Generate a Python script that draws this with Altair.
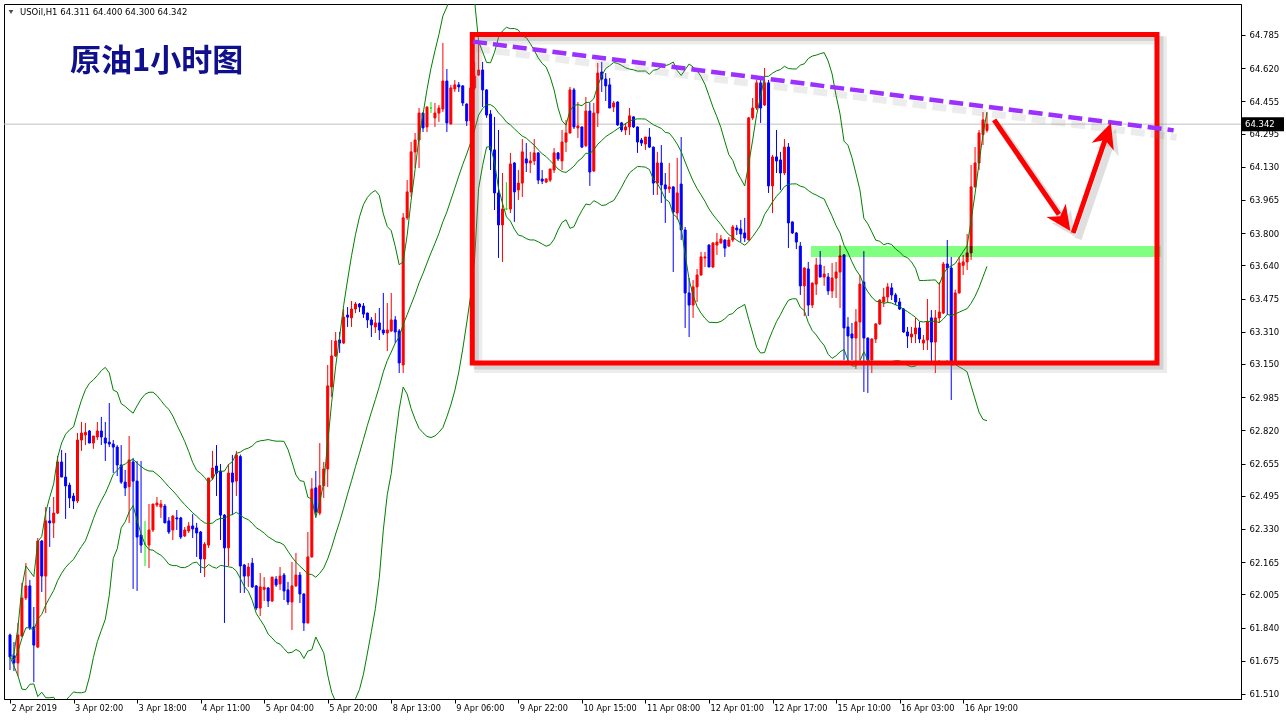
import altair as alt
import pandas as pd

# ---- hourly OHLC, USOil H1, 2 Apr - 16 Apr 2019 ----
opens = [
    61.803, 61.699, 61.664, 61.798, 61.987, 62.047, 61.843, 61.743, 62.270, 62.096,
    62.370, 62.360, 62.409, 62.663, 62.588, 62.548, 62.494, 62.469, 62.772, 62.797,
    62.817, 62.757, 62.787, 62.817, 62.782, 62.762, 62.752, 62.737, 62.648, 62.563,
    62.540, 62.663, 62.568, 62.300, 62.255, 62.250, 62.325, 62.449, 62.439, 62.444,
    62.370, 62.325, 62.385, 62.385, 62.295, 62.320, 62.345, 62.335, 62.315, 62.181,
    62.250, 62.583, 62.643, 62.618, 62.399, 62.236, 62.608, 62.568, 62.690, 62.151,
    62.096, 62.160, 62.047, 61.937, 62.030, 62.037, 61.972, 62.081, 62.057, 62.101,
    62.027, 61.967, 62.047, 62.101, 62.007, 61.863, 62.191, 62.534, 62.409, 62.545,
    62.628, 63.036, 63.190, 63.269, 63.254, 63.393, 63.379, 63.423, 63.448, 63.438,
    63.403, 63.369, 63.334, 63.354, 63.319, 63.304, 63.314, 63.369, 63.314, 63.145,
    63.876, 64.005, 64.204, 64.263, 64.397, 64.328, 64.422, 64.373, 64.397, 64.417,
    64.556, 64.343, 64.517, 64.537, 64.532, 64.442, 64.358, 64.522, 64.586, 64.611,
    64.512, 64.392, 64.214, 64.000, 63.841, 63.920, 63.920, 64.149, 64.015, 64.049,
    64.169, 64.149, 64.159, 64.199, 64.069, 64.054, 64.064, 64.114, 64.199, 64.159,
    64.253, 64.298, 64.512, 64.323, 64.328, 64.235, 64.407, 64.109, 64.397, 64.601,
    64.566, 64.537, 64.427, 64.452, 64.348, 64.313, 64.328, 64.378, 64.328, 64.263,
    64.243, 64.278, 64.228, 64.049, 64.149, 64.040, 64.020, 64.030, 63.900, 64.044,
    63.816, 63.503, 63.443, 63.533, 63.592, 63.677, 63.741, 63.632, 63.741, 63.751,
    63.766, 63.736, 63.766, 63.826, 63.821, 63.801, 63.766, 64.373, 64.422, 64.547,
    64.437, 64.547, 64.035, 64.179, 64.164, 64.099, 64.228, 63.856, 63.801, 63.736,
    63.538, 63.622, 63.443, 63.547, 63.642, 63.582, 63.582, 63.513, 63.577, 63.607,
    63.692, 63.334, 63.299, 63.279, 63.359, 63.557, 63.279, 63.170, 63.274, 63.349,
    63.458, 63.483, 63.528, 63.493, 63.458, 63.423, 63.309, 63.284, 63.299, 63.329,
    63.254, 63.269, 63.379, 63.259, 63.379, 63.403, 63.647, 63.627, 63.160, 63.503,
    63.640, 63.657, 63.702, 64.030, 64.149, 64.290, 64.311,
]
highs = [
    61.810, 61.768, 61.863, 62.062, 62.161, 62.077, 61.942, 62.285, 62.275, 62.439,
    62.439, 62.489, 62.693, 62.723, 62.708, 62.560, 62.509, 62.807, 62.862, 62.857,
    62.822, 62.792, 62.862, 62.887, 62.862, 62.956, 62.772, 62.747, 62.747, 62.623,
    62.792, 62.683, 62.668, 62.668, 62.370, 62.454, 62.454, 62.489, 62.474, 62.454,
    62.389, 62.399, 62.424, 62.390, 62.340, 62.365, 62.404, 62.360, 62.320, 62.265,
    62.583, 62.718, 62.747, 62.653, 62.404, 62.653, 62.698, 62.718, 62.700, 62.156,
    62.161, 62.186, 62.050, 62.111, 62.091, 62.040, 62.091, 62.096, 62.141, 62.111,
    62.067, 62.166, 62.211, 62.116, 62.010, 62.315, 62.583, 62.618, 62.757, 62.663,
    63.145, 63.269, 63.309, 63.309, 63.423, 63.433, 63.463, 63.458, 63.453, 63.453,
    63.405, 63.383, 63.403, 63.428, 63.503, 63.453, 63.503, 63.388, 63.324, 63.900,
    64.064, 64.253, 64.298, 64.422, 64.400, 64.430, 64.452, 64.447, 64.437, 64.745,
    64.616, 64.537, 64.561, 64.551, 64.535, 64.445, 64.611, 64.651, 64.745, 64.651,
    64.515, 64.412, 64.378, 64.313, 64.099, 64.054, 64.199, 64.152, 64.114, 64.268,
    64.248, 64.204, 64.268, 64.202, 64.114, 64.074, 64.119, 64.223, 64.202, 64.313,
    64.363, 64.527, 64.522, 64.452, 64.330, 64.477, 64.447, 64.447, 64.646, 64.651,
    64.596, 64.571, 64.457, 64.455, 64.353, 64.348, 64.422, 64.380, 64.330, 64.273,
    64.278, 64.323, 64.230, 64.204, 64.238, 64.099, 64.149, 64.032, 64.174, 64.278,
    63.831, 63.577, 63.567, 63.622, 63.707, 63.707, 63.745, 63.756, 63.801, 63.791,
    63.770, 63.781, 63.841, 63.841, 63.866, 63.876, 64.378, 64.472, 64.561, 64.576,
    64.621, 64.561, 64.189, 64.313, 64.204, 64.268, 64.248, 63.858, 63.806, 63.756,
    63.630, 63.657, 63.555, 63.677, 63.711, 63.637, 63.602, 63.652, 63.657, 63.741,
    63.695, 63.383, 63.354, 63.423, 63.592, 63.711, 63.281, 63.278, 63.352, 63.471,
    63.528, 63.552, 63.552, 63.503, 63.478, 63.428, 63.334, 63.334, 63.379, 63.359,
    63.294, 63.473, 63.418, 63.418, 63.557, 63.657, 63.766, 63.682, 63.520, 63.682,
    63.692, 63.796, 64.139, 64.228, 64.313, 64.402, 64.400,
]
lows = [
    61.629, 61.624, 61.599, 61.793, 61.977, 61.828, 61.569, 61.738, 62.017, 61.912,
    62.241, 62.285, 62.404, 62.588, 62.380, 62.434, 62.429, 62.459, 62.718, 62.747,
    62.757, 62.728, 62.772, 62.747, 62.668, 62.737, 62.608, 62.593, 62.554, 62.494,
    62.360, 62.032, 62.022, 62.211, 62.146, 62.136, 62.315, 62.439, 62.385, 62.360,
    62.305, 62.275, 62.325, 62.280, 62.290, 62.310, 62.285, 62.191, 62.111, 62.091,
    62.236, 62.573, 62.494, 62.275, 61.863, 62.146, 62.399, 62.494, 62.012, 62.012,
    62.042, 62.037, 61.927, 61.897, 61.972, 61.942, 61.967, 62.042, 62.027, 61.977,
    61.952, 61.828, 62.042, 61.962, 61.823, 61.860, 62.188, 62.399, 62.399, 62.484,
    62.539, 62.986, 63.185, 63.205, 63.250, 63.334, 63.334, 63.403, 63.408, 63.379,
    63.329, 63.284, 63.304, 63.269, 63.294, 63.214, 63.309, 63.254, 63.105, 63.105,
    63.866, 63.980, 64.124, 64.124, 64.303, 64.303, 64.397, 64.328, 64.353, 64.402,
    64.303, 64.340, 64.502, 64.502, 64.432, 64.333, 64.338, 64.512, 64.581, 64.427,
    64.373, 64.114, 63.915, 63.677, 63.657, 63.915, 63.900, 63.856, 63.965, 63.980,
    64.104, 64.099, 64.139, 64.044, 64.044, 64.049, 64.054, 64.099, 64.159, 64.114,
    64.204, 64.295, 64.318, 64.273, 64.223, 64.228, 64.035, 64.104, 64.328, 64.502,
    64.457, 64.422, 64.402, 64.333, 64.303, 64.288, 64.288, 64.323, 64.199, 64.233,
    64.214, 64.223, 63.990, 63.990, 63.950, 63.851, 64.000, 63.607, 63.866, 63.766,
    63.329, 63.284, 63.379, 63.458, 63.590, 63.632, 63.632, 63.627, 63.692, 63.750,
    63.682, 63.731, 63.756, 63.791, 63.756, 63.756, 63.764, 64.363, 64.412, 64.348,
    64.432, 64.000, 63.900, 64.099, 64.015, 64.089, 63.726, 63.796, 63.721, 63.493,
    63.388, 63.388, 63.428, 63.493, 63.582, 63.538, 63.493, 63.478, 63.478, 63.428,
    63.170, 63.160, 63.170, 63.125, 63.170, 63.011, 63.006, 63.105, 63.254, 63.344,
    63.433, 63.453, 63.468, 63.443, 63.418, 63.305, 63.229, 63.254, 63.254, 63.254,
    63.219, 63.219, 63.160, 63.105, 63.354, 63.398, 63.393, 62.971, 63.145, 63.500,
    63.592, 63.617, 63.667, 64.028, 64.114, 64.238, 64.300,
]
closes = [
    61.694, 61.664, 61.803, 61.987, 62.047, 61.838, 61.753, 62.270, 62.096, 62.370,
    62.360, 62.409, 62.663, 62.588, 62.544, 62.484, 62.469, 62.772, 62.807, 62.810,
    62.757, 62.792, 62.817, 62.787, 62.757, 62.752, 62.737, 62.648, 62.563, 62.534,
    62.673, 62.568, 62.290, 62.250, 62.255, 62.325, 62.454, 62.459, 62.454, 62.360,
    62.315, 62.394, 62.380, 62.290, 62.325, 62.345, 62.330, 62.310, 62.181, 62.255,
    62.583, 62.633, 62.608, 62.399, 62.236, 62.608, 62.563, 62.698, 62.146, 62.096,
    62.141, 62.042, 61.937, 62.042, 62.040, 61.972, 62.091, 62.052, 62.096, 62.022,
    61.967, 62.047, 62.101, 62.007, 61.863, 62.191, 62.529, 62.414, 62.545, 62.628,
    63.041, 63.190, 63.264, 63.254, 63.383, 63.383, 63.423, 63.448, 63.433, 63.398,
    63.369, 63.344, 63.354, 63.319, 63.304, 63.319, 63.369, 63.309, 63.155, 63.876,
    64.005, 64.204, 64.263, 64.397, 64.323, 64.427, 64.422, 64.397, 64.422, 64.556,
    64.348, 64.522, 64.537, 64.527, 64.447, 64.358, 64.522, 64.581, 64.611, 64.512,
    64.387, 64.214, 64.000, 63.841, 63.920, 63.920, 64.144, 64.005, 64.049, 64.204,
    64.149, 64.159, 64.199, 64.064, 64.059, 64.069, 64.119, 64.199, 64.169, 64.253,
    64.298, 64.512, 64.328, 64.333, 64.228, 64.407, 64.104, 64.397, 64.596, 64.566,
    64.532, 64.422, 64.447, 64.338, 64.313, 64.328, 64.383, 64.328, 64.253, 64.248,
    64.278, 64.228, 64.049, 64.149, 64.040, 64.020, 64.030, 63.905, 64.000, 63.816,
    63.503, 63.443, 63.533, 63.592, 63.682, 63.682, 63.632, 63.751, 63.756, 63.771,
    63.726, 63.766, 63.831, 63.816, 63.796, 63.776, 64.373, 64.422, 64.547, 64.422,
    64.547, 64.035, 64.179, 64.159, 64.099, 64.228, 63.851, 63.801, 63.756, 63.538,
    63.627, 63.443, 63.552, 63.642, 63.582, 63.597, 63.513, 63.577, 63.607, 63.687,
    63.329, 63.289, 63.279, 63.359, 63.547, 63.279, 63.170, 63.274, 63.349, 63.468,
    63.483, 63.533, 63.493, 63.458, 63.423, 63.309, 63.289, 63.299, 63.329, 63.274,
    63.269, 63.359, 63.259, 63.379, 63.408, 63.647, 63.627, 63.160, 63.503, 63.652,
    63.657, 63.702, 64.030, 64.149, 64.298, 64.363, 64.342,
]

# time axis: one label every 16 bars
time_labels = [
    "2 Apr 2019", "3 Apr 02:00", "3 Apr 18:00", "4 Apr 11:00", "5 Apr 04:00",
    "5 Apr 20:00", "8 Apr 13:00", "9 Apr 06:00", "9 Apr 22:00", "10 Apr 15:00",
    "11 Apr 08:00", "12 Apr 01:00", "12 Apr 17:00", "15 Apr 10:00", "16 Apr 03:00",
    "16 Apr 19:00",
]
label_step = 16

price_ticks = [
    64.785, 64.620, 64.455, 64.295, 64.130, 63.965, 63.800, 63.640, 63.475, 63.310,
    63.150, 62.985, 62.820, 62.655, 62.495, 62.330, 62.165, 62.005, 61.840, 61.675,
    61.510,
]

header_text = "USOil,H1  64.311 64.400 64.300 64.342"
title_text = "原油1小时图"

# drawn annotations (bar index / price)
box_bars = [116.4, 288.8]
box_prices = [64.788, 63.155]
zone_bars = [201.7, 289.7]
zone_prices = [63.682, 63.736]
trend_bars = [116.6, 293.0]
trend_prices = [64.752, 64.311]
arrow_start_bars = [247.8, 267.7]
arrow_start_prices = [64.363, 63.801]
arrow_tip_bars = [267.0, 277.2]
arrow_tip_prices = [63.811, 64.348]

# ---- styling ----
UP, DOWN, DOJI = "#ff0000", "#0000ff", "#00ee00"
BAND = "#008000"
FONT = "DejaVu Sans"
W, H = 1237, 695
arrow_head_angles = [145.2, 19.1]
HEAD = "M0,0 L0.75,1.6 L0,1.15 L-0.75,1.6 Z"

df = pd.DataFrame({
    "bar": list(range(len(closes))),
    "open": opens, "high": highs, "low": lows, "close": closes,
})
df["dir"] = [
    "up" if c > o else ("down" if c < o else "doji") for o, c in zip(opens, closes)
]

xs = alt.Scale(domain=[-0.25, 308.7], nice=False, zero=False)
ys = alt.Scale(domain=[61.485, 64.939], nice=False, zero=False)
cs = alt.Scale(domain=["up", "down", "doji"], range=[UP, DOWN, DOJI])

label_expr = (
    "[" + ",".join("'%s'" % t for t in time_labels) + "][round(datum.value/%d)]" % label_step
)
x_axis = alt.Axis(
    values=list(range(0, label_step * len(time_labels), label_step)),
    labelExpr=label_expr, labelAlign="left", labelBaseline="top", labelOffset=1,
    labelPadding=1, tickSize=4, tickColor="black", domainColor="black",
    labelColor="black", labelFont=FONT, labelFontSize=8.2, grid=False, title=None,
    labelOverlap=False, labelFlush=False, labelBound=False,
)
y_axis = alt.Axis(
    orient="right", values=price_ticks, format=".3f", tickSize=4, labelPadding=4,
    tickColor="black", domainColor="black", labelColor="black", labelFont=FONT,
    labelFontSize=8.5, grid=False, title=None, labelOverlap=False, labelFlush=False,
)


def X(field):
    return alt.X(field, type="quantitative", scale=xs, axis=x_axis)


def Y(field):
    return alt.Y(field, type="quantitative", scale=ys, axis=y_axis)


base = alt.Chart(df)

# last-price line
last = pd.DataFrame({"price": [closes[-1]]})
price_line = alt.Chart(last).mark_rule(color="#c0c0c0", strokeWidth=1).encode(y=Y("price"))

wicks = base.mark_rule(strokeWidth=1).encode(
    x=X("bar"), y=Y("low"), y2="high:Q",
    color=alt.Color("dir:N", scale=cs, legend=None),
)
bodies = base.mark_bar(size=2, strokeWidth=1).encode(
    x=X("bar"), y=Y("open"), y2="close:Q",
    fill=alt.Fill("dir:N", scale=cs, legend=None),
    stroke=alt.Stroke("dir:N", scale=cs, legend=None),
)

# Bollinger bands (20, 2)
bands = (
    base.transform_window(
        mid="mean(close)", sd="stdevp(close)", frame=[-19, 0], sort=[alt.SortField("bar")]
    )
    .transform_calculate(upper="datum.mid + 2*datum.sd", lower="datum.mid - 2*datum.sd")
    .transform_fold(["upper", "mid", "lower"], as_=["band", "value"])
    .mark_line(color=BAND, strokeWidth=1, clip=True)
    .encode(x=X("bar"), y=Y("value"), detail="band:N")
)

zone_df = pd.DataFrame({"b0": [zone_bars[0]], "b1": [zone_bars[1]],
                        "p0": [zone_prices[0]], "p1": [zone_prices[1]]})
zone = alt.Chart(zone_df).mark_rect(fill="#80ff80", blend="multiply").encode(
    x=X("b0"), x2="b1:Q", y=Y("p0"), y2="p1:Q",
)

box_df = pd.DataFrame({"b0": [box_bars[0]], "b1": [box_bars[1]],
                       "p0": [box_prices[0]], "p1": [box_prices[1]]})
box_shadow_outer = alt.Chart(box_df).mark_rect(
    filled=False, color="#808080", strokeWidth=8, opacity=0.15,
    xOffset=6, x2Offset=6, yOffset=6, y2Offset=6,
).encode(x=X("b0"), x2="b1:Q", y=Y("p0"), y2="p1:Q")
box_shadow = alt.Chart(box_df).mark_rect(
    filled=False, color="#808080", strokeWidth=5, opacity=0.25,
    xOffset=4, x2Offset=4, yOffset=4, y2Offset=4,
).encode(x=X("b0"), x2="b1:Q", y=Y("p0"), y2="p1:Q")
box = alt.Chart(box_df).mark_rect(filled=False, color="#ff0000", strokeWidth=5).encode(
    x=X("b0"), x2="b1:Q", y=Y("p0"), y2="p1:Q"
)

trend_df = pd.DataFrame({"bar": trend_bars, "price": trend_prices})
trend_shadow = alt.Chart(trend_df).mark_line(
    color="#808080", strokeWidth=7, opacity=0.15, strokeDash=[14, 6], xOffset=3, yOffset=7
).encode(x=X("bar"), y=Y("price"))
trend = alt.Chart(trend_df).mark_line(
    color="#9b30ff", strokeWidth=4.5, strokeDash=[14, 6]
).encode(x=X("bar"), y=Y("price"))

# arrows
arrow_layers = []
for k in range(len(arrow_start_bars)):
    sb, sp = arrow_start_bars[k], arrow_start_prices[k]
    tb, tp = arrow_tip_bars[k], arrow_tip_prices[k]
    shaft_df = pd.DataFrame({
        "bar": [sb, sb + 0.85 * (tb - sb)],
        "price": [sp, sp + 0.85 * (tp - sp)],
    })
    tip_df = pd.DataFrame({"bar": [tb], "price": [tp]})
    for color, op, dx, dy, sw in [("#808080", 0.25, 5, 6, 7), ("#ff0000", 1.0, 0, 0, 5)]:
        arrow_layers.append(
            alt.Chart(shaft_df).mark_line(
                color=color, opacity=op, strokeWidth=sw, xOffset=dx, yOffset=dy
            ).encode(x=X("bar"), y=Y("price"))
        )
        arrow_layers.append(
            alt.Chart(tip_df).mark_point(
                shape=HEAD, filled=True, color=color, opacity=op, size=980,
                angle=arrow_head_angles[k], xOffset=dx, yOffset=dy, strokeWidth=0,
            ).encode(x=X("bar"), y=Y("price"))
        )

# price tag on the right axis
tag = alt.Chart(last).mark_rect(color="black", yOffset=-7, y2Offset=7).encode(
    x=alt.value(W + 1), x2=alt.value(W + 43), y=Y("price"), y2="price:Q",
)
tag_text = alt.Chart(last).mark_text(
    align="left", baseline="middle", color="white", font=FONT, fontSize=8.5
).encode(
    x=alt.value(W + 4), y=Y("price"), text=alt.Text("price:Q", format=".3f"),
)

head_df = pd.DataFrame({"t": [header_text]})
header_mark = alt.Chart(head_df).mark_point(
    shape="triangle-down", filled=True, color="black", size=22
).encode(x=alt.value(7), y=alt.value(8))
header = alt.Chart(head_df).mark_text(
    align="left", baseline="middle", font=FONT, fontSize=8.5, color="black"
).encode(x=alt.value(16), y=alt.value(8), text="t:N")

title_df = pd.DataFrame({"t": [title_text]})
title = alt.Chart(title_df).mark_text(
    align="left", baseline="middle", font="Noto Sans CJK SC", fontSize=31,
    fontWeight="bold", color="#10108c"
).encode(x=alt.value(66), y=alt.value(58), text="t:N")

chart = alt.layer(
    price_line, wicks, bodies, bands, zone, box_shadow_outer, box_shadow, box,
    trend_shadow, trend, *arrow_layers, tag, tag_text, header_mark, header, title,
).properties(
    width=W, height=H,
    padding={"left": 4, "top": 4, "right": 45, "bottom": 22},
    autosize=alt.AutoSizeParams(type="none"),
    background="white",
).configure_view(stroke="black", strokeWidth=1)

chart.save("out.html", embed_options={"renderer": "svg", "actions": False})
